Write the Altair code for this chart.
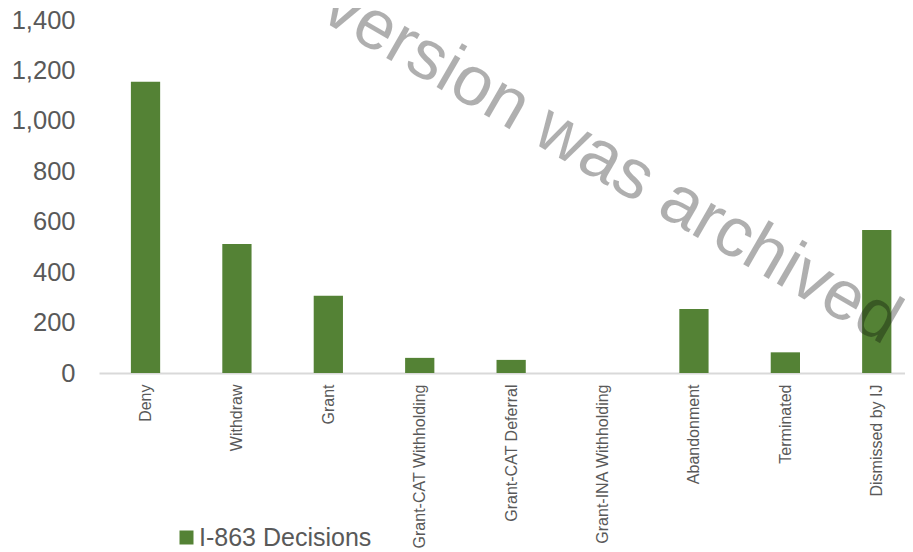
import altair as alt
import pandas as pd

categories = ["Deny", "Withdraw", "Grant", "Grant-CAT Withholding", "Grant-CAT Deferral",
              "Grant-INA Withholding", "Abandonment", "Terminated", "Dismissed by IJ"]
values = [1155, 512, 306, 60, 52, 0, 254, 82, 567]
series_name = "I-863 Decisions"
y_ticks = [0, 200, 400, 600, 800, 1000, 1200, 1400]
watermark = "version was archived"

df = pd.DataFrame({
    "category": categories,
    "idx": list(range(len(categories))),
    "value": values,
    "series": [series_name] * len(categories),
})

GREEN = "#548235"
TEXT = "#595959"
HALF = 0.16  # half bar width, in category steps

label_expr = "[" + ",".join("'" + c + "'" for c in categories) + "][datum.value]"

bars = alt.Chart(df).transform_calculate(
    x0=f"datum.idx - {HALF}", x1=f"datum.idx + {HALF}"
).mark_bar(color=GREEN).encode(
    x=alt.X("x0:Q", scale=alt.Scale(domain=[-0.509, 8.309], nice=False, zero=False),
            axis=alt.Axis(title=None, values=list(range(len(categories))), labelExpr=label_expr,
                          labelAngle=-90, labelAlign="right", labelBaseline="middle",
                          labelFont="Liberation Sans", labelFontSize=16, labelColor=TEXT,
                          labelPadding=11, ticks=False, grid=False,
                          domainColor="#d9d9d9", domainWidth=2)),
    x2="x1:Q",
    y=alt.Y("value:Q", scale=alt.Scale(domain=[0, 1400], nice=False),
            axis=alt.Axis(title=None, values=y_ticks, format=",.0f", grid=False, domain=False, ticks=False,
                          labelFont="Liberation Sans", labelFontSize=25.5, labelColor=TEXT,
                          labelPadding=24)),
    y2=alt.datum(0),
    color=alt.Color("series:N", scale=alt.Scale(range=[GREEN]),
                    legend=alt.Legend(title=None, orient="none", legendX=75, legendY=505,
                                      symbolType="square", symbolSize=196, symbolStrokeWidth=0,
                                      labelFont="Liberation Sans", labelFontSize=25, labelColor=TEXT,
                                      labelOffset=0, labelLimit=400)),
)

wm = alt.Chart(pd.DataFrame({"t": [watermark]})).mark_text(
    angle=30, fontSize=70, font="Liberation Sans", color="#000000", opacity=0.31,
    align="center", baseline="alphabetic"
).encode(text="t:N", x=alt.value(502), y=alt.value(162))

chart = (bars + wm).properties(
    width=806, height=353,
    autosize=alt.AutoSizeParams(type="none"),
    padding={"left": 91, "top": 12, "right": 0, "bottom": 179},
).configure_view(stroke=None)

chart.save("out.html", embed_options={"renderer": "svg", "actions": False})
